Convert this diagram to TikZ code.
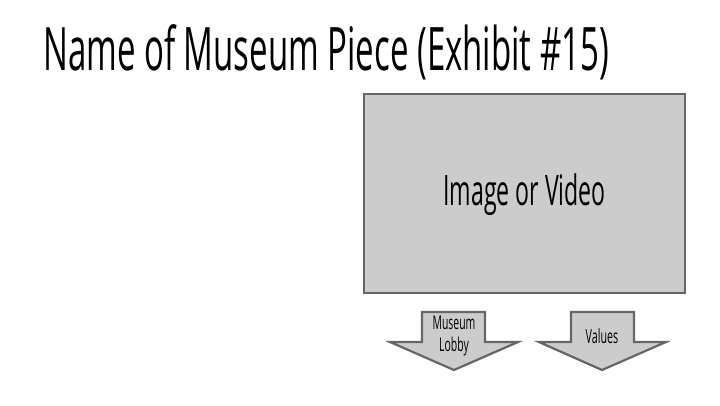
\documentclass[tikz,border=0pt]{standalone}
\usepackage{fontspec}
\setmainfont{Open Sans}[FakeStretch=0.55]
\begin{document}
\begin{tikzpicture}[x=1pt,y=-1pt,
  shapebox/.style={draw=black!60,fill=black!20,line width=2.2pt},
  lbl/.style={inner sep=0pt,text=black}]
\useasboundingbox[fill=white] (0,0) rectangle (720,405);
\node[lbl,anchor=base west,font=\fontsize{60}{66}\selectfont] (title) at (43,70) {Name of Museum Piece (Exhibit \#15)};
\draw[shapebox] (364,94) rectangle (685,293);
\node[lbl,font=\fontsize{42}{48}\selectfont] (media) at (524.5,195) {Image or Video};
\draw[shapebox,line join=miter] (422,312) -- (485,312) -- (485,342) -- (518,342) -- (454,370) -- (390,342) -- (422,342) -- cycle;
\draw[shapebox,line join=miter] (571,312) -- (634,312) -- (634,342) -- (666,342) -- (602,370) -- (539,342) -- (571,342) -- cycle;
\node[lbl,align=center,font=\fontsize{19}{22}\selectfont] (lobby) at (454,336) {Museum\\Lobby};
\node[lbl,font=\fontsize{19.5}{22}\selectfont] (values) at (602,336) {Values};
\end{tikzpicture}
\end{document}
